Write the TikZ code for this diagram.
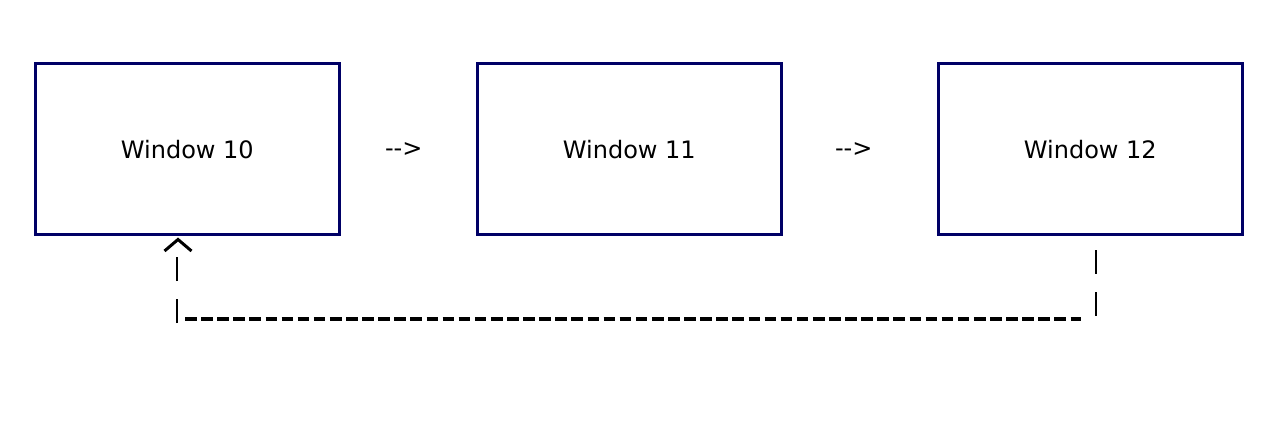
\documentclass[tikz,border=0pt]{standalone}
\usepackage{fontspec}
\setmainfont{DejaVu Sans}
\usetikzlibrary{positioning}
\definecolor{winblue}{RGB}{0,0,102}

\begin{document}
\begin{tikzpicture}[x=1pt,y=-1pt,
    every node/.style={font=\fontsize{24}{28}\selectfont},
    windowbox/.style={draw=winblue,line width=3pt,minimum width=304pt,minimum height=171pt,inner sep=0pt},
    flowtext/.style={inner sep=0pt},
    barline/.style={line width=2pt,dash pattern=on 24pt off 18pt},
    dashline/.style={line width=4pt,dash pattern=on 11.6pt off 4.5pt},
    caret/.style={line width=3pt,miter limit=10}]
    \useasboundingbox (0,0) rectangle (1273,436);
    \begin{scope}
        \node(w10)[windowbox] at (187.3,149.2) {Window 10};
        \node(a1)[flowtext,right=44pt of w10] {-\kern0pt-\kern0pt>};
        \node(w11)[windowbox,right=135pt of w10] {Window 11};
        \node(a2)[flowtext,right=52pt of w11] {-\kern0pt-\kern0pt>};
        \node(w12)[windowbox,right=154pt of w11] {Window 12};
    \end{scope}
    %Back link
    \coordinate (rtop) at (1095.7,250);
    \coordinate (rbot) at (1095.7,316);
    \coordinate (rturn) at (1081,319.3);
    \coordinate (lturn) at (185,319.3);
    \coordinate (lbot) at (177,323);
    \coordinate (ltop) at (177,257);
    \coordinate (ltip) at (178,239.5);
    \begin{scope}
        \draw[barline] (rtop) -- (rbot);
        \draw[dashline] (lturn) -- (rturn);
        \draw[barline] (lbot) -- (ltop);
        \draw[caret] (ltip) ++(-13.5,11.5) -- (ltip) -- ++(13.5,11.5);
    \end{scope}
\end{tikzpicture}
\end{document}
